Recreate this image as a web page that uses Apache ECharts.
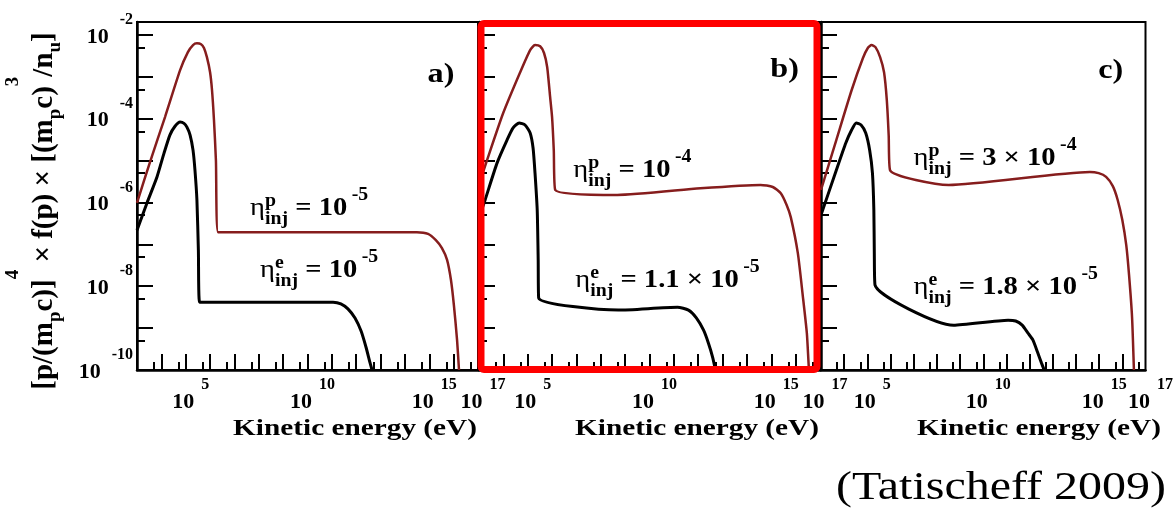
<!DOCTYPE html>
<html><head><meta charset="utf-8">
<script src="https://cdn.jsdelivr.net/npm/echarts@6/dist/echarts.min.js"></script>
<style>html,body{margin:0;padding:0;background:#fff}#c{width:1176px;height:517px}</style>
</head><body><div id="c"></div>
<script>
// ---- data (log10 units: x = log10 E[eV], y = log10 of plotted quantity) ----
const panelLetters = ['a)', 'b)', 'c)'];
const xLabelTicks = [5, 10, 15, 17];
const xMajorTicks = [4, 5, 6, 7, 8, 9, 10, 11, 12, 13, 14, 15, 16];
const xMinorTicks = [3.7, 4.7, 5.7, 6.7, 7.7, 8.7, 9.7, 10.7, 11.7, 12.7, 13.7, 14.7, 15.7, 16.7];
const yLabelTicks = [-10, -8, -6, -4, -2];
const yMajorTicks = [-9, -8, -7, -6, -5, -4, -3, -2];
const yMinorTicks = [-9.3, -8.3, -7.3, -6.3, -5.3, -4.3, -3.3, -2.3];

const aProtonLogE = [3.0, 3.53, 4.15, 4.77, 5.09, 5.30, 5.46, 5.63, 5.75, 5.87, 6.0, 6.08, 6.16, 6.24, 6.33, 9.0, 12.0, 14.49, 14.95, 15.27, 15.52, 15.73, 15.89, 16.01, 16.14, 16.22];
const aProtonLogF = [-6.01, -5.04, -3.96, -2.84, -2.41, -2.24, -2.20, -2.22, -2.31, -2.53, -2.89, -3.32, -4.03, -4.99, -6.71, -6.71, -6.71, -6.71, -6.75, -6.90, -7.09, -7.37, -7.85, -8.45, -9.28, -10.0];
const aElectronLogE = [3.0, 3.41, 3.82, 4.11, 4.35, 4.56, 4.77, 4.93, 5.05, 5.18, 5.30, 5.38, 5.46, 5.52, 5.57, 8.0, 11.05, 11.37, 11.66, 11.95, 12.2, 12.4, 12.56, 12.65];
const aElectronLogF = [-6.66, -6.01, -5.39, -4.82, -4.39, -4.18, -4.08, -4.11, -4.20, -4.39, -4.75, -5.23, -5.94, -7.14, -8.38, -8.38, -8.38, -8.42, -8.54, -8.76, -9.07, -9.45, -9.81, -10.0];

const bProtonLogE = [3.0, 3.33, 3.99, 4.69, 5.10, 5.30, 5.51, 5.67, 5.80, 5.92, 6.0, 6.07, 6.13, 8.68, 12.09, 14.56, 15.06, 15.39, 15.63, 15.80, 16.09, 16.29, 16.46, 16.54, 16.56];
const bProtonLogF = [-5.58, -4.99, -3.87, -2.89, -2.36, -2.24, -2.27, -2.43, -2.77, -3.48, -3.96, -4.75, -5.70, -5.82, -5.66, -5.58, -5.63, -5.78, -6.06, -6.35, -7.21, -8.21, -9.12, -9.93, -10.0];
const bElectronLogE = [3.0, 3.25, 3.74, 4.15, 4.40, 4.65, 4.89, 5.10, 5.22, 5.30, 5.39, 5.43, 5.45, 8.72, 11.15, 11.60, 11.93, 12.22, 12.42, 12.59, 12.71];
const bElectronLogF = [-6.37, -5.94, -5.06, -4.51, -4.22, -4.10, -4.15, -4.34, -4.70, -5.30, -6.18, -7.37, -8.28, -8.57, -8.50, -8.57, -8.76, -9.05, -9.36, -9.69, -10.0];

const cProtonLogE = [3.0, 3.66, 4.32, 4.81, 5.02, 5.18, 5.35, 5.55, 5.72, 5.84, 5.92, 5.98, 8.51, 14.60, 14.98, 15.30, 15.59, 15.80, 16.0, 16.17, 16.29, 16.42, 16.50];
const cProtonLogF = [-5.70, -4.51, -3.32, -2.55, -2.31, -2.24, -2.29, -2.53, -2.89, -3.56, -4.39, -5.23, -5.58, -5.27, -5.30, -5.39, -5.61, -5.94, -6.42, -7.02, -7.73, -8.74, -10.0];
const cElectronLogE = [3.0, 3.66, 4.07, 4.32, 4.52, 4.73, 4.93, 5.10, 5.22, 5.28, 5.30, 5.33, 8.72, 11.07, 11.40, 11.68, 11.93, 12.14, 12.34, 12.51, 12.63];
const cElectronLogF = [-6.30, -5.23, -4.58, -4.27, -4.10, -4.15, -4.34, -4.75, -5.30, -6.18, -7.21, -7.97, -8.93, -8.81, -8.83, -8.93, -9.12, -9.28, -9.57, -9.83, -10.0];

// annotation text: [panel, anchor logE (left), anchor logF (centre), species, coefficient, exponent]
const annotations = [
  [0, 7.64, -6.13, 'p', '', '-5'],
  [0, 8.05, -7.61, 'e', '', '-5'],
  [1, 6.87, -5.23, 'p', '', '-4'],
  [1, 6.95, -7.85, 'e', '1.1 \u00d7 ', '-5'],
  [2, 6.99, -4.94, 'p', '3 \u00d7 ', '-4'],
  [2, 6.99, -8.02, 'e', '1.8 \u00d7 ', '-5']
];
const letterPos = [[15.48, -2.96], [15.55, -2.82], [15.5, -2.86]];

// ---- layout / style ----
const FONT = '"Liberation Serif", "Times New Roman", serif';
const PROTON = '#861d1d';
const PROTON_TEXT = '#8a1f30';
const GRID_LEFTS = [137, 479, 821];
const GRID_W = 341, GRID_TOP = 22, GRID_H = 348;
const X_MIN = 3, X_MAX = 17, Y_MIN = -10, Y_MAX = -1.69;

const toPairs = (xs, ys) => xs.map((x, i) => [x, ys[i]]);
const panels = [
  [aProtonLogE, aProtonLogF, aElectronLogE, aElectronLogF],
  [bProtonLogE, bProtonLogF, bElectronLogE, bElectronLogF],
  [cProtonLogE, cProtonLogF, cElectronLogE, cElectronLogF]
];

const tickRich = {
  b: { fontFamily: FONT, fontWeight: 'bold', fontSize: 22, height: 22, verticalAlign: 'bottom', color: '#000' },
  e: { fontFamily: FONT, fontWeight: 'bold', fontSize: 16, height: 16, padding: [0, 0, 20, 11], verticalAlign: 'bottom', color: '#000' }
};
const xTickRich = {
  b: Object.assign({}, tickRich.b, { padding: [0, 0, 0, 10] }),
  e: Object.assign({}, tickRich.e, { padding: [0, 0, 20, 7] })
};
const nameRich = {
  n: { fontFamily: FONT, fontWeight: 'bold', fontSize: 29, height: 29, padding: [0, 0, 6, 0], verticalAlign: 'bottom', color: '#000' },
  s: { fontFamily: FONT, fontWeight: 'bold', fontSize: 19, height: 19, verticalAlign: 'bottom', color: '#000' },
  u: { fontFamily: FONT, fontWeight: 'bold', fontSize: 19, height: 19, padding: [0, 0, 42, 0], verticalAlign: 'bottom', color: '#000' }
};

const grids = [], xAxes = [], yAxes = [], series = [];
for (let p = 0; p < 3; p++) {
  grids.push({ left: GRID_LEFTS[p], top: GRID_TOP, width: GRID_W, height: GRID_H,
    show: true, borderColor: '#000', borderWidth: 2, backgroundColor: 'transparent' });
}
// major axes (with labels)
for (let p = 0; p < 3; p++) {
  xAxes.push({
    type: 'value', gridIndex: p, min: X_MIN, max: X_MAX, interval: 1, position: 'bottom',
    axisLine: { show: true, onZero: false, lineStyle: { color: '#000', width: 2.5 } },
    axisTick: { show: true, inside: true, length: 16, customValues: xMajorTicks, lineStyle: { color: '#000', width: 2 } },
    axisLabel: { show: true, customValues: xLabelTicks, margin: 7, rich: xTickRich,
      formatter: v => '{b|10}{e|' + Math.round(v) + '}' },
    splitLine: { show: false }
  });
  yAxes.push({
    type: 'value', gridIndex: p, min: Y_MIN, max: Y_MAX, interval: 1, position: 'left',
    axisLine: { show: true, onZero: false, lineStyle: { color: '#000', width: 2.5 } },
    axisTick: { show: true, inside: true, length: 16, customValues: yMajorTicks, lineStyle: { color: '#000', width: 2 } },
    axisLabel: { show: p === 0, customValues: yLabelTicks, margin: 4, rich: tickRich, padding: [0, 0, 10, 0],
      formatter: v => '{b|10}{e|' + Math.round(v) + '}' },
    splitLine: { show: false },
    name: p === 0 ? '{n|[p/(m}{s|p}{n|c)]}{u|4}{n| \u00d7 f(p) \u00d7 [(m}{s|p}{n|c)}{u|3}{n|/n}{s|u}{n|]}' : '',
    nameLocation: 'middle', nameRotate: 90, nameGap: 72,
    nameTextStyle: { fontFamily: FONT, fontWeight: 'bold', fontSize: 29, color: '#000', padding: [0, 30, 0, 0], rich: nameRich }
  });
}
// minor (short) tick axes
for (let p = 0; p < 3; p++) {
  xAxes.push({
    type: 'value', gridIndex: p, min: X_MIN, max: X_MAX, interval: 1, position: 'bottom',
    axisLine: { show: false, onZero: false },
    axisTick: { show: true, inside: true, length: 8, customValues: xMinorTicks, lineStyle: { color: '#000', width: 2 } },
    axisLabel: { show: false }, splitLine: { show: false }
  });
  yAxes.push({
    type: 'value', gridIndex: p, min: Y_MIN, max: Y_MAX, interval: 1, position: 'left',
    axisLine: { show: false, onZero: false },
    axisTick: { show: true, inside: true, length: 8, customValues: yMinorTicks, lineStyle: { color: '#000', width: 2 } },
    axisLabel: { show: false }, splitLine: { show: false }
  });
}
for (let p = 0; p < 3; p++) {
  const [pe, pf, ee, ef] = panels[p];
  series.push({ type: 'line', xAxisIndex: p, yAxisIndex: p, data: toPairs(pe, pf), symbol: 'none',
    smooth: 0.2, lineStyle: { color: PROTON, width: 2.5 }, animation: false, z: 3 });
  series.push({ type: 'line', xAxisIndex: p, yAxisIndex: p, data: toPairs(ee, ef), symbol: 'none',
    smooth: 0.2, lineStyle: { color: '#000', width: 3 }, animation: false, z: 3 });
}

const chart = echarts.init(document.getElementById('c'), null, { renderer: 'canvas' });
chart.setOption({ animation: false, backgroundColor: '#fff', grid: grids, xAxis: xAxes, yAxis: yAxes, series: series });

// ---- text annotations, placed from data coordinates ----
const annRich = (col) => ({
  eta: { fontFamily: FONT, fontSize: 26, height: 26, padding: [0, 0, 7, 0], verticalAlign: 'bottom', color: col },
  sup: { fontFamily: FONT, fontWeight: 'bold', fontSize: 18, height: 18, padding: [0, 0, 18, 0], width: 0, verticalAlign: 'bottom', color: col },
  sub: { fontFamily: FONT, fontWeight: 'bold', fontSize: 18, height: 18, verticalAlign: 'bottom', color: col },
  m: { fontFamily: FONT, fontWeight: 'bold', fontSize: 26, height: 26, padding: [0, 0, 7, 0], verticalAlign: 'bottom', color: col },
  ex: { fontFamily: FONT, fontWeight: 'bold', fontSize: 18, height: 18, padding: [0, 0, 24, 4], verticalAlign: 'bottom', color: col }
});
const graphics = [];
annotations.forEach(([p, lx, cy, sp, coef, ex]) => {
  const pt = chart.convertToPixel({ xAxisIndex: p, yAxisIndex: p }, [lx, cy]);
  const col = sp === 'p' ? PROTON_TEXT : '#000';
  graphics.push({ type: 'text', x: pt[0], y: pt[1] - 22, scaleX: 1.1, z: 10,
    style: { text: '{eta|\u03b7}{sup|' + sp + '}{sub|inj}{m| = ' + coef + '10}{ex|' + ex + '}',
      rich: annRich(col), align: 'left', verticalAlign: 'top' } });
});
letterPos.forEach(([lx, ly], p) => {
  const pt = chart.convertToPixel({ xAxisIndex: p, yAxisIndex: p }, [lx, ly]);
  graphics.push({ type: 'text', x: pt[0], y: pt[1], scaleX: 1.15, z: 10,
    style: { text: panelLetters[p], fontFamily: FONT, fontWeight: 'bold', fontSize: 28, fill: '#000',
      align: 'center', verticalAlign: 'middle' } });
});
for (let p = 0; p < 3; p++) {
  const right = GRID_LEFTS[p] + GRID_W - 1;
  graphics.push({ type: 'text', x: right, y: 417, scaleX: 1.22, z: 10,
    style: { text: 'Kinetic energy (eV)', fontFamily: FONT, fontWeight: 'bold', fontSize: 24, fill: '#000',
      align: 'right', verticalAlign: 'top' } });
}
// highlight frame around panel b
graphics.push({ type: 'rect', z: 20,
  shape: { x: GRID_LEFTS[1] + 2, y: GRID_TOP + 1.5, width: GRID_W - 5, height: GRID_H - 2, r: 3 },
  style: { fill: 'none', stroke: '#ff0000', lineWidth: 7 } });
graphics.push({ type: 'text', x: 1166, y: 488, scaleX: 1.17, z: 10,
  style: { text: '(Tatischeff 2009)', fontFamily: FONT, fontSize: 41, fill: '#000', align: 'right', verticalAlign: 'middle' } });
chart.setOption({ graphic: graphics });
</script>
</body></html>
